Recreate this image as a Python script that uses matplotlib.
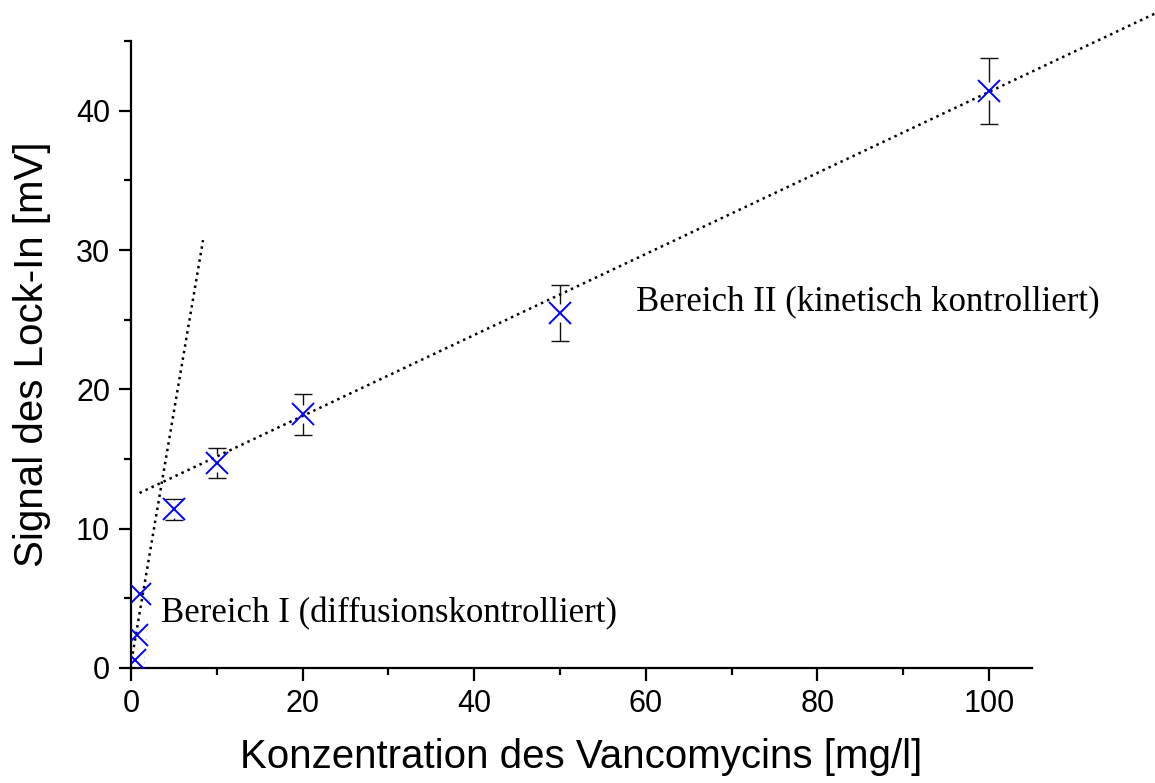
import matplotlib
matplotlib.use("Agg")
import matplotlib.pyplot as plt
import numpy as np

# Messwerte: Konzentration [mg/l], Signal [mV], Fehler [mV]
conc = [0.5, 0.75, 1.0, 5, 10, 20, 50, 100]
signal = [0.6, 2.4, 5.3, 11.4, 14.7, 18.2, 25.5, 41.4]
err = [0.2, 0.3, 0.4, 0.75, 1.1, 1.45, 2.0, 2.35]

# Ausgleichsgeraden der beiden Bereiche
fit1_x = [0.2, 8.4]
fit1_slope, fit1_icpt = 3.62, 0.30
fit2_x = [1.0, 120.0]
fit2_slope, fit2_icpt = 0.2908, 12.27

x_ticks = [0, 20, 40, 60, 80, 100]
y_ticks = [0, 10, 20, 30, 40]

SANS = ["Liberation Sans", "DejaVu Sans"]
SERIF = ["Liberation Serif", "DejaVu Serif"]


def main():
    fig = plt.figure(figsize=(11.55, 7.83), dpi=100)
    ax = fig.add_axes([0.1134, 0.1469, 0.8935 - 0.1134, 0.9476 - 0.1469])

    x = np.array(conc)
    y = np.array(signal)
    e = np.array(err)

    # Fehlerbalken, am Marker unterbrochen (weißes Quadrat als Aussparung)
    ax.errorbar(x, y, yerr=e, fmt="none", ecolor="#111111", elinewidth=1.0,
                capsize=6.5, capthick=1.0, zorder=1)
    ax.plot(x, y, "s", ms=13, mfc="white", mec="none", zorder=2)

    for xs, k, d in ((fit1_x, fit1_slope, fit1_icpt), (fit2_x, fit2_slope, fit2_icpt)):
        xs = np.array(xs)
        ax.plot(xs, k * xs + d, color="black", linestyle=":", lw=1.8,
                clip_on=False, zorder=3)

    ax.plot(x, y, "x", ms=16, mew=1.4, color="#0000ff", zorder=4)

    ax.text(58.9, 26.3, "Bereich II (kinetisch kontrolliert)", family=SERIF,
            fontsize=25, va="center", ha="left")
    ax.text(3.5, 3.9, "Bereich I (diffusionskontrolliert)", family=SERIF,
            fontsize=25, va="center", ha="left")

    ax.set_xlim(0, 105)
    ax.set_ylim(0, 45)
    ax.set_xticks(x_ticks)
    ax.set_yticks(y_ticks)
    ax.set_xticks(np.arange(10, 100, 20), minor=True)
    ax.set_yticks(np.arange(5, 50, 10), minor=True)

    for side in ("top", "right"):
        ax.spines[side].set_visible(False)
    for side in ("left", "bottom"):
        ax.spines[side].set_linewidth(1.6)

    ax.tick_params(which="major", direction="out", length=9, width=1.6,
                   labelsize=22, pad=6)
    ax.tick_params(which="minor", direction="out", length=5, width=1.6)
    for lbl in ax.get_xticklabels() + ax.get_yticklabels():
        lbl.set_family(SANS)

    ax.set_xlabel("Konzentration des Vancomycins [mg/l]", family=SANS,
                  fontsize=29, labelpad=14)
    ax.set_ylabel("Signal des Lock-In [mV]", family=SANS, fontsize=29,
                  labelpad=18)

    fig.savefig("out.png", dpi=100)


if __name__ == "__main__":
    main()
